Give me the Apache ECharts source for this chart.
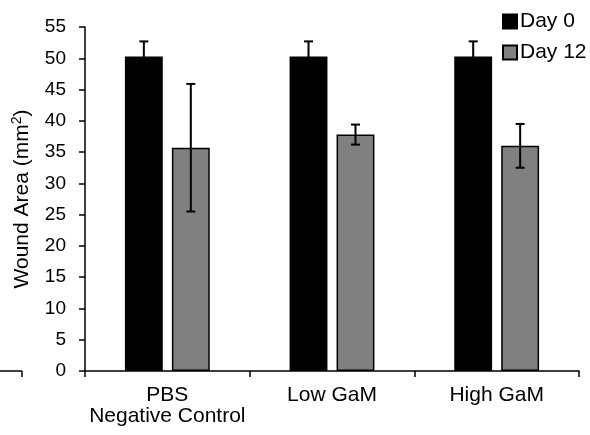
<!DOCTYPE html>
<html>
<head>
<meta charset="utf-8">
<script src="https://cdn.jsdelivr.net/npm/echarts@6/dist/echarts.min.js"></script>
<style>html,body{margin:0;padding:0;background:#fff}#c{width:590px;height:435px}</style>
</head>
<body>
<div id="c"></div>
<script>
var categories = ['PBS\nNegative Control', 'Low GaM', 'High GaM'];
var seriesNames = ['Day 0', 'Day 12'];
var day0Values = [50.3, 50.3, 50.3];
var day0Err = [2.4, 2.4, 2.4];
var day12Values = [35.7, 37.8, 36.0];
var day12Err = [10.2, 1.6, 3.5];
var yTicks = {min: 0, max: 55, interval: 5};

var FONT = 'Liberation Sans, Arial, sans-serif';
var BAR_W = 0.23, BAR_GAP = 0.24;

function errData(vals, errs) {
  return vals.map(function (v, i) { return [i, v - errs[i], v + errs[i]]; });
}
function errRender(sign) {
  return function (params, api) {
    var band = api.size([1, 0])[0];
    var off = sign * band * BAR_W * (1 + BAR_GAP) / 2;
    var lo = api.coord([api.value(0), api.value(1)]);
    var hi = api.coord([api.value(0), api.value(2)]);
    var x = lo[0] + off, cap = 4.5;
    var st = {stroke: '#000', lineWidth: 2};
    return {type: 'group', children: [
      {type: 'line', shape: {x1: x, y1: lo[1], x2: x, y2: hi[1]}, style: st},
      {type: 'line', shape: {x1: x - cap, y1: lo[1], x2: x + cap, y2: lo[1]}, style: st},
      {type: 'line', shape: {x1: x - cap, y1: hi[1], x2: x + cap, y2: hi[1]}, style: st}
    ]};
  };
}

var chart = echarts.init(document.getElementById('c'));
chart.setOption({
  animation: false,
  textStyle: {fontFamily: FONT},
  grid: {left: 85, right: 11, top: 27, bottom: 64},
  legend: {
    orient: 'vertical', left: 497, top: 6, itemWidth: 14, itemHeight: 14, itemGap: 10,
    data: seriesNames.map(function (n) { return {name: n, icon: 'rect'}; }),
    textStyle: {fontSize: 21, color: '#000', fontFamily: FONT, padding: [0, 0, 0, -2]}
  },
  xAxis: {
    type: 'category', data: categories,
    axisLine: {lineStyle: {color: '#000', width: 1.5}},
    axisTick: {show: true, length: 6, lineStyle: {color: '#000', width: 1.5}},
    axisLabel: {interval: 0, fontSize: 21, color: '#000', margin: 14, lineHeight: 21, fontFamily: FONT}
  },
  yAxis: {
    type: 'value', min: yTicks.min, max: yTicks.max, interval: yTicks.interval,
    name: 'Wound Area (mm{sup|2})', nameLocation: 'middle', nameGap: 45,
    nameTextStyle: {
      fontSize: 21, color: '#000', fontFamily: FONT, lineHeight: 24,
      rich: {sup: {fontSize: 14, color: '#000', fontFamily: FONT, verticalAlign: 'top', lineHeight: 14}}
    },
    splitLine: {show: false},
    axisLine: {show: true, lineStyle: {color: '#000', width: 1.5}},
    axisTick: {show: true, length: 6, lineStyle: {color: '#000', width: 1.5}},
    axisLabel: {fontSize: 19, color: '#000', margin: 19, fontFamily: FONT}
  },
  series: [
    {name: seriesNames[0], type: 'bar', data: day0Values, barWidth: (BAR_W * 100) + '%', barGap: (BAR_GAP * 100) + '%',
     itemStyle: {color: '#000', borderColor: '#000', borderWidth: 1.5}},
    {name: seriesNames[1], type: 'bar', data: day12Values, barWidth: (BAR_W * 100) + '%', barGap: (BAR_GAP * 100) + '%',
     itemStyle: {color: '#808080', borderColor: '#000', borderWidth: 1.5}},
    {type: 'custom', renderItem: errRender(-1), data: errData(day0Values, day0Err), z: 10, silent: true},
    {type: 'custom', renderItem: errRender(1), data: errData(day12Values, day12Err), z: 10, silent: true}
  ],
  graphic: [
    {type: 'line', shape: {x1: 0, y1: 371, x2: 22, y2: 371}, style: {stroke: '#000', lineWidth: 1.5}},
    {type: 'line', shape: {x1: 22, y1: 371, x2: 22, y2: 377}, style: {stroke: '#000', lineWidth: 1.5}}
  ]
});
</script>
</body>
</html>
